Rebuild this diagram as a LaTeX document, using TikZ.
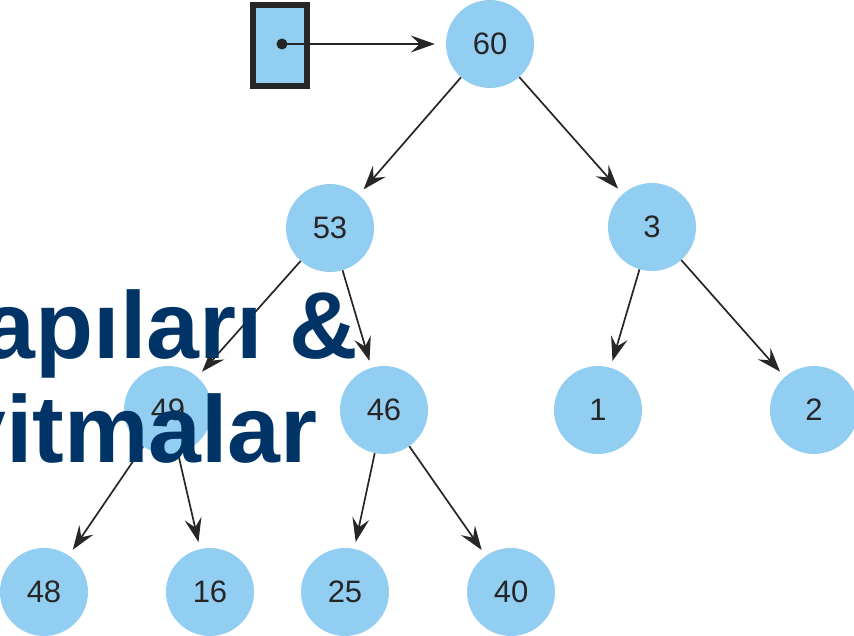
\documentclass[tikz,border=0pt]{standalone}
\usepackage{fontspec}
\setmainfont{Liberation Sans}
\usetikzlibrary{arrows.meta}
\definecolor{nodeblue}{RGB}{146,206,242}
\definecolor{ink}{RGB}{38,38,38}
\definecolor{titleblue}{RGB}{0,51,102}
\tikzset{
  tnode/.style={circle, fill=nodeblue, minimum size=88pt, inner sep=0pt, text=ink, font=\fontsize{31}{31}\selectfont},
  arr/.style={draw=ink, line width=1.7pt, -{Stealth[length=24pt, width=17pt, inset=9pt]}, shorten >=7pt},
  titletext/.style={inner sep=0pt, text=titleblue, font=\fontsize{95}{95}\selectfont\bfseries}
}
\begin{document}
\begin{tikzpicture}[x=1pt, y=-1pt]
\useasboundingbox (0,0) rectangle (854,636);
% pointer box
\draw[draw=ink, fill=nodeblue, line width=6pt] (253,5) rectangle (307,86);
\node[circle, fill=ink, minimum size=11pt, inner sep=0pt] (dot) at (282,44) {};
% tree nodes
\node[tnode] (n60) at (490,44) {60};
\node[tnode] (n53) at (330,228) {53};
\node[tnode] (n3)  at (652,227) {3};
\node[tnode] (n49) at (168,410) {49};
\node[tnode] (n46) at (384,410) {46};
\node[tnode] (n1)  at (598,410) {1};
\node[tnode] (n2)  at (814,410) {2};
\node[tnode] (n48) at (44,592) {48};
\node[tnode] (n16) at (210,592) {16};
\node[tnode] (n25) at (345,592) {25};
\node[tnode] (n40) at (511,592) {40};
% connectors
\draw[arr, shorten >=11pt] (dot.center) -- (n60);
\draw[arr] (n60) -- (n53);
\draw[arr] (n60) -- (n3);
\draw[arr] (n53) -- (n49);
\draw[arr] (n53) -- (n46);
\draw[arr] (n3) -- (n1);
\draw[arr] (n3) -- (n2);
\draw[arr] (n49) -- (n48);
\draw[arr] (n49) -- (n16);
\draw[arr] (n46) -- (n25);
\draw[arr] (n46) -- (n40);
% overlapping title text
\node[titletext, anchor=base east] (t1) at (358,358) {apıları \&};
\node[titletext, anchor=base east] (t2) at (318,462) {yitmalar};
\end{tikzpicture}
\end{document}
